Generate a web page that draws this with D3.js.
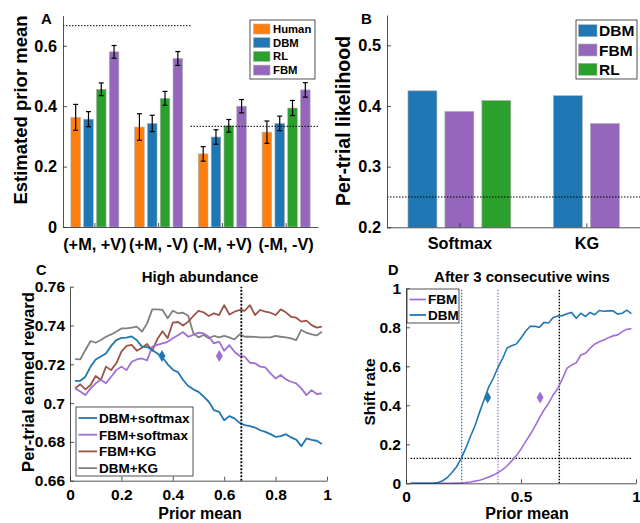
<!DOCTYPE html>
<html>
<head>
<meta charset="utf-8">
<script src="https://cdn.jsdelivr.net/npm/d3@7"></script>
<style>
  body { margin: 0; background: #fff; }
  svg { font-family: "Liberation Sans", Arial, sans-serif; font-weight: bold; }
  .axis path, .axis line { stroke: #262626; stroke-width: 0.8; }
  .axis text { fill: #000; font-weight: bold; }
</style>
</head>
<body>
<svg id="chart" width="640" height="523"></svg>
<script>
// ---- Panel A data ----
const groupsA = ["(+M, +V)", "(+M, -V)", "(-M, +V)", "(-M, -V)"];
const seriesA = ["Human", "DBM", "RL", "FBM"];
const humanMean = [0.363, 0.331, 0.242, 0.314];
const humanErr = [0.043, 0.044, 0.024, 0.037];
const dbmMean = [0.357, 0.343, 0.298, 0.343];
const dbmErr = [0.025, 0.027, 0.024, 0.024];
const rlMean = [0.456, 0.426, 0.335, 0.394];
const rlErr = [0.021, 0.023, 0.021, 0.025];
const fbmMean = [0.580, 0.558, 0.400, 0.454];
const fbmErr = [0.021, 0.023, 0.022, 0.024];
const refA = [2 / 3, 1 / 3];

// ---- Panel B data ----
const methodsB = ["Softmax", "KG"];
const seriesB = ["DBM", "FBM", "RL"];
const softmaxLik = [0.425, 0.391, 0.409];
const kgLik = [0.417, 0.371, null];
const chanceB = 0.25;

// ---- Panel C data ----
const priorMeans = [0.02, 0.04, 0.06, 0.08, 0.10, 0.12, 0.14, 0.16, 0.18, 0.20,
  0.22, 0.24, 0.26, 0.28, 0.30, 0.32, 0.34, 0.36, 0.38, 0.40,
  0.42, 0.44, 0.46, 0.48, 0.50, 0.52, 0.54, 0.56, 0.58, 0.60,
  0.62, 0.64, 0.66, 0.68, 0.70, 0.72, 0.74, 0.76, 0.78, 0.80,
  0.82, 0.84, 0.86, 0.88, 0.90, 0.92, 0.94, 0.96, 0.98];
const dbmSoftmax = [0.7115, 0.7115, 0.7136, 0.7188, 0.7225, 0.7240, 0.7256, 0.7295, 0.7325, 0.7336,
  0.7337, 0.7344, 0.7324, 0.7291, 0.7289, 0.7274, 0.7256, 0.7235, 0.7200, 0.7172,
  0.7160, 0.7119, 0.7088, 0.7071, 0.7058, 0.7033, 0.7007, 0.6964, 0.6955, 0.6912,
  0.6933, 0.6921, 0.6898, 0.6886, 0.6881, 0.6874, 0.6860, 0.6852, 0.6840, 0.6826,
  0.6830, 0.6840, 0.6823, 0.6812, 0.6778, 0.6818, 0.6810, 0.6806, 0.6789];
const fbmSoftmax = [0.7076, 0.7060, 0.7042, 0.7076, 0.7102, 0.7120, 0.7102, 0.7136, 0.7170, 0.7188,
  0.7170, 0.7213, 0.7225, 0.7230, 0.7220, 0.7291, 0.7300, 0.7308, 0.7316, 0.7334,
  0.7350, 0.7366, 0.7342, 0.7352, 0.7363, 0.7359, 0.7342, 0.7308, 0.7317, 0.7270,
  0.7299, 0.7265, 0.7243, 0.7239, 0.7208, 0.7205, 0.7188, 0.7184, 0.7153, 0.7127,
  0.7145, 0.7122, 0.7110, 0.7102, 0.7076, 0.7041, 0.7067, 0.7047, 0.7050];
const fbmKG = [0.7076, 0.7097, 0.7071, 0.7093, 0.7140, 0.7119, 0.7188, 0.7170, 0.7205, 0.7265,
  0.7295, 0.7300, 0.7270, 0.7285, 0.7305, 0.7270, 0.7330, 0.7370, 0.7335, 0.7415,
  0.7418, 0.7400, 0.7420, 0.7449, 0.7476, 0.7468, 0.7449, 0.7463, 0.7454, 0.7505,
  0.7457, 0.7471, 0.7480, 0.7476, 0.7505, 0.7454, 0.7480, 0.7471, 0.7466, 0.7454,
  0.7483, 0.7468, 0.7445, 0.7440, 0.7420, 0.7425, 0.7402, 0.7389, 0.7394];
const dbmKG = [0.7227, 0.7225, 0.7274, 0.7320, 0.7311, 0.7325, 0.7342, 0.7354, 0.7368, 0.7385,
  0.7385, 0.7389, 0.7394, 0.7368, 0.7411, 0.7483, 0.7483, 0.7480, 0.7437, 0.7476,
  0.7463, 0.7466, 0.7450, 0.7360, 0.7339, 0.7351, 0.7334, 0.7346, 0.7339, 0.7347,
  0.7339, 0.7328, 0.7354, 0.7342, 0.7342, 0.7341, 0.7339, 0.7339, 0.7339, 0.7347,
  0.7342, 0.7339, 0.7334, 0.7325, 0.7377, 0.7363, 0.7354, 0.7349, 0.7368];
const humanPointC = [{ x: 0.358, y: 0.7243, s: "DBM" }, { x: 0.581, y: 0.7243, s: "FBM" }];
const abundanceC = 2 / 3;

// ---- Panel D data ----
const dbmShift = [0, 0, 0, 0, 0, 0.001, 0.004, 0.013, 0.030, 0.055,
  0.085, 0.128, 0.180, 0.240, 0.295, 0.365, 0.430, 0.495, 0.540, 0.595,
  0.640, 0.695, 0.705, 0.715, 0.745, 0.780, 0.805, 0.805, 0.800, 0.825,
  0.822, 0.850, 0.858, 0.860, 0.870, 0.876, 0.846, 0.872, 0.856, 0.876,
  0.864, 0.886, 0.882, 0.884, 0.884, 0.868, 0.872, 0.888, 0.870];
const fbmShift = [0, 0, 0, 0, 0, 0, 0, 0, 0, 0,
  0.001, 0.002, 0.004, 0.007, 0.011, 0.016, 0.023, 0.032, 0.042, 0.055,
  0.070, 0.090, 0.115, 0.142, 0.175, 0.214, 0.250, 0.291, 0.335, 0.376,
  0.410, 0.453, 0.487, 0.535, 0.590, 0.607, 0.617, 0.658, 0.667, 0.692,
  0.713, 0.726, 0.735, 0.747, 0.756, 0.761, 0.778, 0.790, 0.792];
const humanPointD = [{ x: 0.355, y: 0.44, s: "DBM" }, { x: 0.583, y: 0.44, s: "FBM" }];
const crossD = [{ x: 0.242, s: "DBM" }, { x: 0.40, s: "FBM" }, { x: 2 / 3, s: "true" }];
const humanShiftD = 0.128;

const barColor = { Human: "#ff7f0e", DBM: "#1f77b4", RL: "#2ca02c", FBM: "#9467bd" };
const lineColor = { "DBM+softmax": "#1f77b4", "FBM+softmax": "#a06fd6", "FBM+KG": "#9c5447", "DBM+KG": "#808080",
  DBM: "#1f77b4", FBM: "#a06fd6", "true": "#000" };

const svg = d3.select("#chart");

function drawAxes(g, x, y, bottomY, leftX, o) {
  const xa = d3.axisBottom(x).tickSizeInner(-4).tickSizeOuter(0).tickPadding(o.xPad);
  if (o.xTicks) xa.tickValues(o.xTicks);
  if (o.xFmt) xa.tickFormat(o.xFmt);
  g.append("g").attr("class", "axis").attr("transform", `translate(0,${bottomY})`)
    .call(xa).selectAll("text").style("font-size", o.fs + "px");
  const ya = d3.axisLeft(y).tickValues(o.yTicks).tickSizeInner(-4).tickSizeOuter(0).tickPadding(o.yPad)
    .tickFormat(numFmt);
  g.append("g").attr("class", "axis").attr("transform", `translate(${leftX},0)`)
    .call(ya).selectAll("text").style("font-size", o.fs + "px");
}
const numFmt = d => String(+d.toFixed(2));

function legendBox(g, x, y, w, h) {
  g.append("rect").attr("x", x).attr("y", y).attr("width", w).attr("height", h)
    .attr("fill", "#fff").attr("stroke", "#262626").attr("stroke-width", 0.8);
}

// =========== Panel A ===========
{
  const g = svg.append("g");
  const x0 = d3.scaleBand().domain(groupsA).range([63, 318]);
  const half = x0.bandwidth() / 2;
  const x1 = d3.scaleBand().domain(seriesA).range([half - 25.6, half + 25.6])
    .paddingInner(0.25).paddingOuter(0.125);
  const y = d3.scaleLinear().domain([0, 0.7]).range([227, 15.6]);
  const means = { Human: humanMean, DBM: dbmMean, RL: rlMean, FBM: fbmMean };
  const errs = { Human: humanErr, DBM: dbmErr, RL: rlErr, FBM: fbmErr };
  const rows = [];
  groupsA.forEach((grp, i) => seriesA.forEach(s => rows.push({ grp, s, v: means[s][i], e: errs[s][i] })));

  g.selectAll("rect.bar").data(rows).enter().append("rect")
    .attr("x", d => x0(d.grp) + x1(d.s))
    .attr("width", x1.bandwidth())
    .attr("y", d => y(d.v))
    .attr("height", d => y(0) - y(d.v))
    .attr("fill", d => barColor[d.s])
    .attr("stroke", "#b0b0b0").attr("stroke-width", 0.6);

  // error bars
  const eb = g.selectAll("g.eb").data(rows).enter().append("g")
    .attr("stroke", "#000").attr("stroke-width", 1.2);
  eb.append("line")
    .attr("x1", d => x0(d.grp) + x1(d.s) + x1.bandwidth() / 2)
    .attr("x2", d => x0(d.grp) + x1(d.s) + x1.bandwidth() / 2)
    .attr("y1", d => y(d.v - d.e)).attr("y2", d => y(d.v + d.e));
  [-1, 1].forEach(sg => {
    eb.append("line")
      .attr("x1", d => x0(d.grp) + x1(d.s) + x1.bandwidth() / 2 - 2.5)
      .attr("x2", d => x0(d.grp) + x1(d.s) + x1.bandwidth() / 2 + 2.5)
      .attr("y1", d => y(d.v + sg * d.e)).attr("y2", d => y(d.v + sg * d.e));
  });

  // reference lines: first covers first two conditions, second the last two
  g.selectAll("line.ref").data(refA).enter().append("line")
    .attr("x1", (d, i) => i === 0 ? x0(groupsA[0]) : x0(groupsA[2]))
    .attr("x2", (d, i) => i === 0 ? x0(groupsA[1]) + x0.bandwidth() : x0(groupsA[3]) + x0.bandwidth())
    .attr("y1", d => y(d)).attr("y2", d => y(d))
    .attr("stroke", "#000").attr("stroke-width", 1).attr("stroke-dasharray", "1.5,1.5");

  drawAxes(g, x0, y, 227, 63, { yTicks: [0, 0.2, 0.4, 0.6], fs: 16.3, xPad: 11, yPad: 6 });

  g.append("text").attr("transform", "translate(27,110) rotate(-90)")
    .attr("text-anchor", "middle").style("font-size", "18.5px").text("Estimated prior mean");
  g.append("text").attr("x", 41).attr("y", 23.5).style("font-size", "15px").text("A");

  legendBox(g, 250, 20, 65, 59);
  seriesA.forEach((s, i) => {
    const yy = 29 + i * 13.7;
    g.append("rect").attr("x", 253.5).attr("y", yy - 5).attr("width", 16.5).attr("height", 10)
      .attr("fill", barColor[s]).attr("stroke", "#b0b0b0").attr("stroke-width", 0.6);
    g.append("text").attr("x", 273).attr("y", yy + 4).style("font-size", "11.3px").text(s);
  });
}

// =========== Panel B ===========
{
  const g = svg.append("g");
  const x = d3.scaleLinear().domain([0.43, 2.43]).range([387, 641]);
  const y = d3.scaleLinear().domain([0.2, 0.55]).range([227.3, 15]);
  const vals = [softmaxLik, kgLik];
  const rows = [];
  methodsB.forEach((m, i) => {
    const present = seriesB.map((s, j) => ({ s, v: vals[i][j] })).filter(d => d.v != null);
    present.forEach((d, k) => rows.push({ m: i + 1, s: d.s, v: d.v, off: (k - (present.length - 1) / 2) * 0.291 }));
  });
  const bw = 0.228;
  g.selectAll("rect.bar").data(rows).enter().append("rect")
    .attr("x", d => x(d.m + d.off - bw / 2))
    .attr("width", x(bw) - x(0))
    .attr("y", d => y(d.v))
    .attr("height", d => y(0.2) - y(d.v))
    .attr("fill", d => barColor[d.s])
    .attr("stroke", "#b0b0b0").attr("stroke-width", 0.6);

  g.append("line").attr("x1", 387).attr("x2", 640).attr("y1", y(chanceB)).attr("y2", y(chanceB))
    .attr("stroke", "#000").attr("stroke-width", 1).attr("stroke-dasharray", "1.5,1.5");

  drawAxes(g, x, y, 227.3, 387, { xTicks: [1, 2], yTicks: [0.2, 0.3, 0.4, 0.5],
    xFmt: (d, i) => methodsB[i], fs: 16.3, xPad: 10, yPad: 6 });

  g.append("text").attr("transform", "translate(350,121) rotate(-90)")
    .attr("text-anchor", "middle").style("font-size", "19.5px").text("Per-trial likelihood");
  g.append("text").attr("x", 361).attr("y", 23.5).style("font-size", "15px").text("B");

  legendBox(g, 576, 20, 61, 59);
  seriesB.forEach((s, i) => {
    const yy = 30.7 + i * 19.3;
    g.append("rect").attr("x", 578.5).attr("y", yy - 6).attr("width", 18.5).attr("height", 12)
      .attr("fill", barColor[s]).attr("stroke", "#b0b0b0").attr("stroke-width", 0.6);
    g.append("text").attr("x", 599).attr("y", yy + 5.5).style("font-size", "15.5px").text(s);
  });
}

// =========== Panel C ===========
{
  const g = svg.append("g");
  const x = d3.scaleLinear().domain([0, 1]).range([70, 327]);
  const y = d3.scaleLinear().domain([0.66, 0.76]).range([480.7, 286.7]);
  const series = [
    { name: "DBM+softmax", v: dbmSoftmax },
    { name: "FBM+softmax", v: fbmSoftmax },
    { name: "FBM+KG", v: fbmKG },
    { name: "DBM+KG", v: dbmKG }
  ];
  const line = d3.line().x((d, i) => x(priorMeans[i])).y(d => y(d));
  // draw order: gray, brown, purple, blue on top
  series.slice().reverse().forEach(s => {
    g.append("path").attr("d", line(s.v)).attr("fill", "none")
      .attr("stroke", lineColor[s.name]).attr("stroke-width", 1.8).attr("stroke-linejoin", "round");
  });
  g.append("line").attr("x1", x(abundanceC)).attr("x2", x(abundanceC)).attr("y1", y(0.66)).attr("y2", y(0.76))
    .attr("stroke", "#000").attr("stroke-width", 1.8).attr("stroke-dasharray", "2,1.5");
  g.selectAll("path.hp").data(humanPointC).enter().append("path")
    .attr("d", d3.symbol(d3.symbolDiamond, 42))
    .attr("transform", d => `translate(${x(d.x)},${y(d.y)})`)
    .attr("fill", d => lineColor[d.s]);

  drawAxes(g, x, y, 480.7, 70, { xTicks: [0, 0.2, 0.4, 0.6, 0.8, 1], yTicks: [0.66, 0.68, 0.70, 0.72, 0.74, 0.76],
    xFmt: numFmt, fs: 15.5, xPad: 8, yPad: 5 });

  g.append("text").attr("transform", "translate(34,382) rotate(-90)")
    .attr("text-anchor", "middle").style("font-size", "16.5px").text("Per-trial earned reward");
  g.append("text").attr("x", 200).attr("y", 519).attr("text-anchor", "middle").style("font-size", "16px").text("Prior mean");
  g.append("text").attr("x", 200).attr("y", 282).attr("text-anchor", "middle").style("font-size", "15px").text("High abundance");
  g.append("text").attr("x", 36).attr("y", 274.5).style("font-size", "14.5px").text("C");

  legendBox(g, 76, 407, 117, 69);
  series.forEach((s, i) => {
    const yy = 418 + i * 16.7;
    g.append("line").attr("x1", 78.5).attr("x2", 97).attr("y1", yy).attr("y2", yy)
      .attr("stroke", lineColor[s.name]).attr("stroke-width", 1.8);
    g.append("text").attr("x", 99).attr("y", yy + 4.8).style("font-size", "13.5px").text(s.name);
  });
}

// =========== Panel D ===========
{
  const g = svg.append("g");
  const x = d3.scaleLinear().domain([0, 1]).range([406, 636]);
  const y = d3.scaleLinear().domain([0, 1]).range([483.3, 288.3]);
  const line = d3.line().x((d, i) => x(priorMeans[i])).y(d => y(d));

  g.selectAll("line.cross").data(crossD).enter().append("line")
    .attr("x1", d => x(d.x)).attr("x2", d => x(d.x)).attr("y1", y(0)).attr("y2", y(1))
    .attr("stroke", d => lineColor[d.s]).attr("stroke-width", d => d.s === "true" ? 1.4 : 1.2)
    .attr("stroke-dasharray", "1.5,1.5");
  g.append("line").attr("x1", x(0.02)).attr("x2", x(0.985)).attr("y1", y(humanShiftD)).attr("y2", y(humanShiftD))
    .attr("stroke", "#000").attr("stroke-width", 1.4).attr("stroke-dasharray", "1.5,1.5");

  g.append("path").attr("d", line(fbmShift)).attr("fill", "none")
    .attr("stroke", lineColor.FBM).attr("stroke-width", 1.6);
  g.append("path").attr("d", line(dbmShift)).attr("fill", "none")
    .attr("stroke", lineColor.DBM).attr("stroke-width", 1.6);
  g.selectAll("path.hp").data(humanPointD).enter().append("path")
    .attr("d", d3.symbol(d3.symbolDiamond, 42))
    .attr("transform", d => `translate(${x(d.x)},${y(d.y)})`)
    .attr("fill", d => lineColor[d.s]);

  drawAxes(g, x, y, 483.3, 406, { xTicks: [0, 0.5, 1], yTicks: [0, 0.2, 0.4, 0.6, 0.8, 1],
    xFmt: numFmt, fs: 15.5, xPad: 8, yPad: 5 });

  g.append("text").attr("transform", "translate(375,392) rotate(-90)")
    .attr("text-anchor", "middle").style("font-size", "15.5px").text("Shift rate");
  g.append("text").attr("x", 527).attr("y", 519).attr("text-anchor", "middle").style("font-size", "16px").text("Prior mean");
  g.append("text").attr("x", 522).attr("y", 282).attr("text-anchor", "middle").style("font-size", "15px").text("After 3 consecutive wins");
  g.append("text").attr("x", 388).attr("y", 274.5).style("font-size", "14.5px").text("D");

  legendBox(g, 407, 289, 52, 34);
  ["FBM", "DBM"].forEach((s, i) => {
    const yy = 299.5 + i * 15.5;
    g.append("line").attr("x1", 409.5).attr("x2", 426).attr("y1", yy).attr("y2", yy)
      .attr("stroke", lineColor[s]).attr("stroke-width", 1.8);
    g.append("text").attr("x", 428).attr("y", yy + 4.8).style("font-size", "13.5px").text(s);
  });
}
</script>
</body>
</html>
